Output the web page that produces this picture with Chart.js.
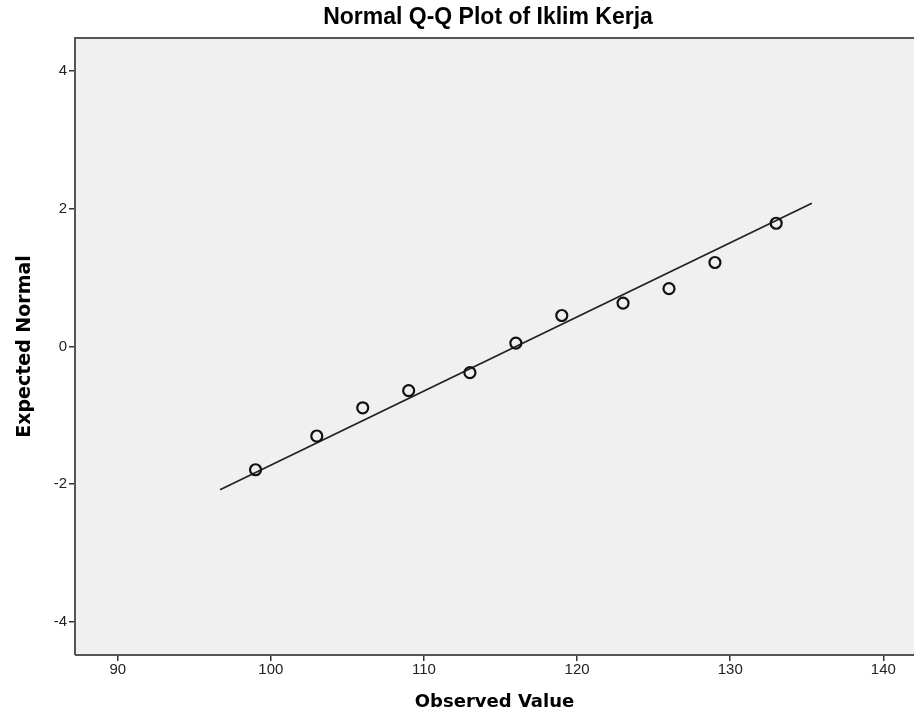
<!DOCTYPE html>
<html>
<head>
    <title>Normal Q-Q Plot of Iklim Kerja</title>
    <script src="https://cdn.jsdelivr.net/npm/chart.js" type="text/javascript"></script>
    <style>
        body { margin: 0; background: #ffffff; overflow: hidden; }
        #wrap { width: 915px; height: 725px; }
        canvas { display: block; }
    </style>
</head>
<body>
<div id="wrap"><canvas id="qqChart" width="915" height="725"></canvas></div>
<script type="text/javascript">

    // observed values and their expected normal scores
    var observed = [99, 103, 106, 109, 113, 116, 119, 123, 126, 129, 133];
    var expected = [-1.79, -1.30, -0.89, -0.64, -0.38, 0.05, 0.45, 0.63, 0.84, 1.22, 1.79];

    // reference line end points
    var lineX = [96.68, 135.33];
    var lineY = [-2.08, 2.08];

    var xTicks = [90, 100, 110, 120, 130, 140];
    var yTicks = [-4, -2, 0, 2, 4];

    var pointData = observed.map(function (v, i) { return { x: v, y: expected[i] }; });
    var lineData = lineX.map(function (v, i) { return { x: v, y: lineY[i] }; });

    var fontFamily = "'Liberation Sans', Arial, sans-serif";
    var titleFamily = "'DejaVu Sans', Verdana, sans-serif";

    // grey plot area and frame, plus the title
    var frame = {
        id: 'frame',
        beforeDatasetsDraw: function (chart) {
            var a = chart.chartArea, c = chart.ctx;
            c.save();
            c.fillStyle = '#f0f0f0';
            c.fillRect(a.left, a.top, a.right - a.left, a.bottom - a.top);
            c.restore();
        },
        afterDraw: function (chart) {
            var a = chart.chartArea, c = chart.ctx;
            c.save();
            c.strokeStyle = '#555555';
            c.lineWidth = 2;
            c.beginPath();
            c.moveTo(a.left, a.bottom);
            c.lineTo(a.left, a.top);
            c.lineTo(a.right, a.top);
            c.moveTo(a.left, a.bottom);
            c.lineTo(a.right, a.bottom);
            c.stroke();
            c.fillStyle = '#000000';
            c.font = 'bold 23px ' + fontFamily;
            c.textAlign = 'center';
            c.textBaseline = 'middle';
            c.fillText('Normal Q-Q Plot of Iklim Kerja', 488, 18);
            c.restore();
        }
    };

    var ctx = document.getElementById('qqChart').getContext('2d');
    var chart = new Chart(ctx, {
        type: 'scatter',
        data: {
            datasets: [{
                label: 'Observed',
                data: pointData,
                pointStyle: 'circle',
                pointRadius: 5.5,
                pointBorderWidth: 2.2,
                pointBorderColor: '#111111',
                pointBackgroundColor: 'rgba(0,0,0,0)',
                showLine: false
            }, {
                label: 'Line',
                data: lineData,
                showLine: true,
                borderColor: '#222222',
                borderWidth: 1.8,
                pointRadius: 0
            }]
        },
        options: {
            responsive: false,
            animation: false,
            layout: { autoPadding: false, padding: { top: 38, right: 1, left: 0, bottom: 0 } },
            plugins: {
                legend: { display: false },
                tooltip: { enabled: false }
            },
            scales: {
                x: {
                    type: 'linear',
                    min: 87.21,
                    max: 142.0,
                    afterFit: function (s) {
                        s.height = 70;
                        s.paddingLeft = 0;
                        s.paddingRight = 0;
                    },
                    afterBuildTicks: function (s) { s.ticks = xTicks.map(function (v) { return { value: v }; }); },
                    grid: { drawOnChartArea: false, drawTicks: true, tickLength: 6, color: '#333333', lineWidth: 1.5 },
                    border: { display: false },
                    ticks: { color: '#222222', padding: 0, font: { family: fontFamily, size: 15 } },
                    title: {
                        display: true,
                        text: 'Observed Value',
                        color: '#000000',
                        font: { family: titleFamily, size: 18, weight: 'bold' },
                        padding: { top: 0, bottom: 12 }
                    }
                },
                y: {
                    type: 'linear',
                    min: -4.48,
                    max: 4.48,
                    afterFit: function (s) {
                        s.width = 75;
                        s.paddingTop = 0;
                        s.paddingBottom = 0;
                    },
                    afterBuildTicks: function (s) { s.ticks = yTicks.map(function (v) { return { value: v }; }); },
                    grid: { drawOnChartArea: false, drawTicks: true, tickLength: 6, color: '#333333', lineWidth: 1.5 },
                    border: { display: false },
                    ticks: { color: '#222222', padding: 2, font: { family: fontFamily, size: 15 } },
                    title: {
                        display: true,
                        text: 'Expected Normal',
                        color: '#000000',
                        font: { family: titleFamily, size: 19, weight: 'bold' },
                        padding: { top: 14, bottom: 0 }
                    }
                }
            }
        },
        plugins: [frame]
    });

</script>
</body>
</html>
